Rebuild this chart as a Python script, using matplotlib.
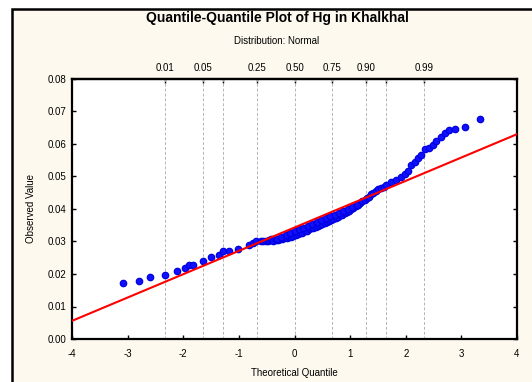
import matplotlib
matplotlib.use("Agg")
import matplotlib.pyplot as plt
import matplotlib.patches as mpatches
from statistics import NormalDist

plt.rcParams["font.family"] = ["Liberation Sans", "DejaVu Sans"]

theor_q = [
    -3.09, -2.80, -2.59, -2.33, -2.11, -1.97, -1.89, -1.82, -1.65, -1.50,
    -1.35, -1.28, -1.18, -1.01, -0.82, -0.75, -0.69, -0.60,
    -0.56, -0.52, -0.48, -0.45, -0.42, -0.38, -0.34, -0.30, -0.26, -0.22,
    -0.18, -0.14, -0.10, -0.06, -0.02, 0.02, 0.06, 0.10, 0.14, 0.18,
    0.22, 0.26, 0.30, 0.34, 0.38, 0.42, 0.46, 0.50, 0.54, 0.58,
    0.62, 0.66, 0.70, 0.74, 0.78, 0.82, 0.86, 0.90, 0.94, 0.98,
    1.02, 1.06, 1.10, 1.14, 1.18, 1.22, 1.26, 1.30, 1.34, 1.38,
    1.42, 1.46, 1.50, 1.55, 1.60,
    1.65, 1.74, 1.83, 1.92, 1.98, 2.04, 2.10, 2.16, 2.22, 2.28,
    2.34, 2.42, 2.49, 2.55, 2.63, 2.70, 2.78, 2.88, 3.06, 3.34,
]
observed = [
    0.0171, 0.0178, 0.0190, 0.0196, 0.0208, 0.0219, 0.0227, 0.0227, 0.0239, 0.0251,
    0.0258, 0.0270, 0.0270, 0.0276, 0.0288, 0.0295, 0.0301, 0.0301,
    0.0300, 0.0302, 0.0301, 0.0304, 0.0307, 0.0303, 0.0306, 0.0305, 0.0308, 0.0309,
    0.0311, 0.0312, 0.0315, 0.0314, 0.0318, 0.0320, 0.0322, 0.0325, 0.0327, 0.0331,
    0.0333, 0.0337, 0.0340, 0.0342, 0.0346, 0.0348, 0.0352, 0.0355, 0.0357, 0.0361,
    0.0364, 0.0366, 0.0370, 0.0373, 0.0376, 0.0380, 0.0383, 0.0387, 0.0391, 0.0395,
    0.0400, 0.0404, 0.0409, 0.0413, 0.0418, 0.0424, 0.0428, 0.0434, 0.0438, 0.0445,
    0.0450, 0.0455, 0.0460, 0.0464, 0.0469,
    0.0474, 0.0482, 0.0489, 0.0499, 0.0507, 0.0517, 0.0535, 0.0544, 0.0556, 0.0566,
    0.0585, 0.0587, 0.0597, 0.0610, 0.0622, 0.0635, 0.0642, 0.0646, 0.0651, 0.0676,
]

# upper edge of the dense middle band (overlapping points)
band_q = [
    -0.32, -0.24, -0.16, -0.08, 0.00, 0.08, 0.16, 0.24, 0.32, 0.40,
    0.48, 0.56, 0.64, 0.72, 0.80, 0.88, 0.96, 1.04, 1.12,
]
band_obs = [
    0.0309, 0.0315, 0.0320, 0.0326, 0.0331, 0.0337, 0.0343, 0.0348, 0.0354, 0.0360,
    0.0365, 0.0371, 0.0377, 0.0383, 0.0389, 0.0395, 0.0400, 0.0407, 0.0413,
]

# fitted normal line: mean + sd * z
line_mean = 0.0343
line_sd = 0.00718

# probability levels on the top axis
prob_levels = [0.01, 0.05, 0.10, 0.25, 0.50, 0.75, 0.90, 0.95, 0.99]
prob_labels = ["0.01", "0.05", "", "0.25", "0.50", "0.75", "0.90", "", "0.99"]

x_ticks = [-4, -3, -2, -1, 0, 1, 2, 3, 4]
y_ticks = [0.00, 0.01, 0.02, 0.03, 0.04, 0.05, 0.06, 0.07, 0.08]

W, H = 532, 382
fig = plt.figure(figsize=(W / 100, H / 100), dpi=100)
fig.patch.set_facecolor("white")

# cream frame with black border (runs off right / bottom edge)
frame = mpatches.Rectangle((12 / W, -0.05), 1.2, (H - 9) / H + 0.05,
                           transform=fig.transFigure, facecolor="#fdf9ee",
                           edgecolor="black", linewidth=1.8, zorder=-10)
fig.patches.append(frame)

ax = fig.add_axes([72 / W, (H - 339) / H, 445 / W, 260 / H])
ax.set_facecolor("white")

z_levels = [NormalDist().inv_cdf(p) for p in prob_levels]
for z in z_levels:
    ax.axvline(z, color="#b4b4b4", linestyle=(0, (3, 2)), linewidth=0.7, zorder=1)

ax.plot([-4, 4], [line_mean - 4 * line_sd, line_mean + 4 * line_sd],
        color="#ff0000", linewidth=1.5, zorder=3)
marker_style = dict(linestyle="none", marker="o", markersize=4.6,
                    markerfacecolor="#1010ff", markeredgecolor="#0000e0",
                    markeredgewidth=0.9, zorder=2)
ax.plot(theor_q, observed, **marker_style)
ax.plot(band_q, band_obs, **marker_style)

ax.set_xlim(-4, 4)
ax.set_ylim(0, 0.08)
ax.set_xticks(x_ticks)
ax.set_xticklabels([str(t) for t in x_ticks])
ax.set_yticks(y_ticks)
ax.set_yticklabels([f"{t:.2f}" for t in y_ticks])
ax.tick_params(direction="in", length=3, width=1, labelsize=7, pad=4,
               right=True, colors="black")
ax.tick_params(axis="x", pad=7)
for s in ax.spines.values():
    s.set_linewidth(1.6)

top = ax.secondary_xaxis("top")
top.set_xticks(z_levels)
top.set_xticklabels(prob_labels)
top.tick_params(direction="in", length=3, width=1, labelsize=7, pad=4)
top.spines["top"].set_linewidth(1.6)

ax.set_xlabel("Theoretical Quantile", fontsize=7, labelpad=7)
ax.set_ylabel("Observed Value", fontsize=7, labelpad=8)

fig.text(277 / W, 1 - 18 / H, "Quantile-Quantile Plot of Hg in Khalkhal",
         ha="center", va="center", fontsize=10, fontweight="bold")
fig.text(277 / W, 1 - 41 / H, "Distribution: Normal",
         ha="center", va="center", fontsize=7)

fig.savefig("out.png", dpi=100)
